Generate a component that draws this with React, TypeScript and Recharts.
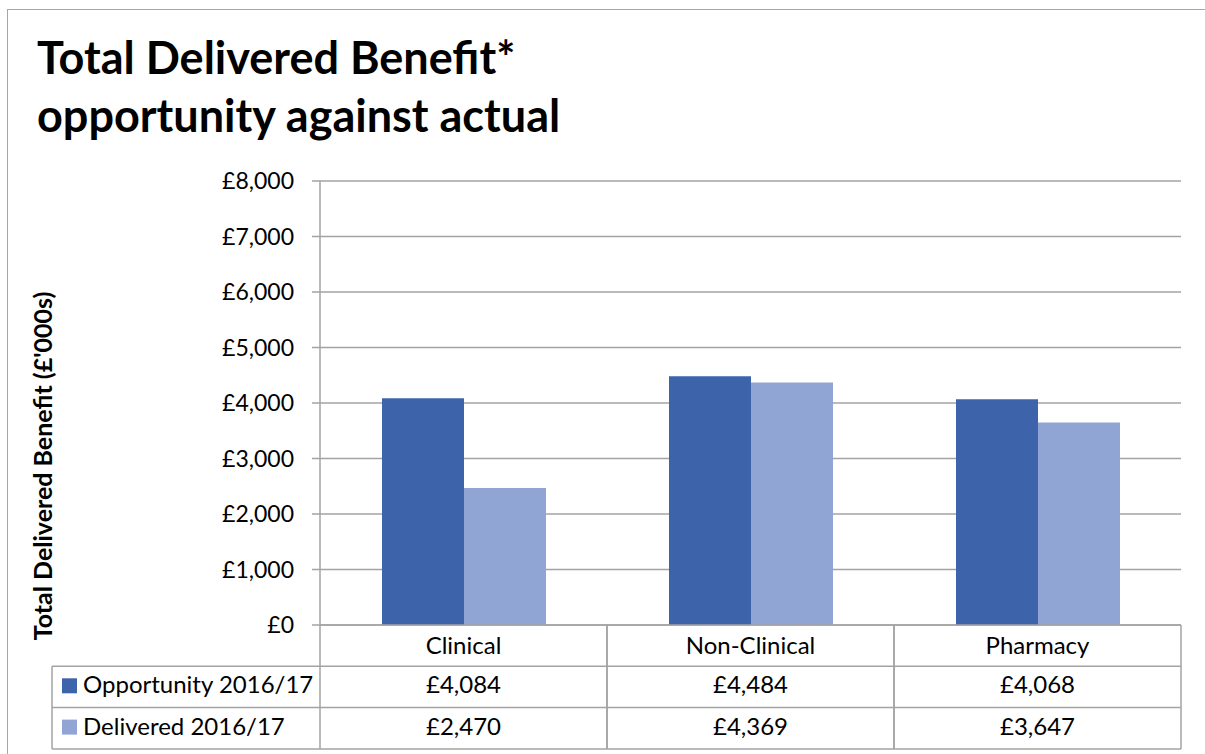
import { BarChart, Bar, XAxis, YAxis, CartesianGrid } from 'recharts';

const categories = ['Clinical', 'Non-Clinical', 'Pharmacy'];
const opportunity = [4084, 4484, 4068];
const delivered = [2470, 4369, 3647];
const yTicks = [0, 1000, 2000, 3000, 4000, 5000, 6000, 7000, 8000];
const seriesNames = ['Opportunity 2016/17', 'Delivered 2016/17'];

const DARK = '#3d64ab';
const LIGHT = '#91a5d4';
const GRID = '#a3a3a3';
const FONT = 'Lato, "Open Sans", sans-serif';

const W = 1205;
const H = 754;
const PLOT_LEFT = 320;
const PLOT_RIGHT = 1181;
const PLOT_TOP = 181;
const PLOT_BOTTOM = 625;
const ROW_H = 41.3;
const COL_W = (PLOT_RIGHT - PLOT_LEFT) / categories.length;
const LEGEND_LEFT = 52;
const TABLE_FS = 24;

const data = categories.map((name, i) => ({
  name,
  opportunity: opportunity[i],
  delivered: delivered[i],
}));

const money = (v: number) => `£${v.toLocaleString('en-GB')}`;

// each category tick draws its own column of the data table
function TableTick(props: any) {
  const { x, y, index } = props;
  const left = x - COL_W / 2;
  const right = x + COL_W / 2;
  const rows = [y, y + ROW_H, y + ROW_H * 2, y + ROW_H * 3];
  return (
    <g>
      <line x1={left} x2={left} y1={rows[0]} y2={rows[3]} stroke={GRID} strokeWidth={1.5} />
      <line x1={right} x2={right} y1={rows[0]} y2={rows[3]} stroke={GRID} strokeWidth={1.5} />
      {rows.slice(1).map((ry, i) => (
        <line key={i} x1={left} x2={right} y1={ry} y2={ry} stroke={GRID} strokeWidth={1.5} />
      ))}
      <text x={x} y={rows[0] + 29} textAnchor="middle" fontSize={TABLE_FS} fontFamily={FONT} fill="#000">
        {categories[index]}
      </text>
      <text x={x} y={rows[1] + 27} textAnchor="middle" fontSize={TABLE_FS} fontFamily={FONT} fill="#000">
        {money(opportunity[index])}
      </text>
      <text x={x} y={rows[2] + 27} textAnchor="middle" fontSize={TABLE_FS} fontFamily={FONT} fill="#000">
        {money(delivered[index])}
      </text>
    </g>
  );
}

export default function App() {
  const r1 = PLOT_BOTTOM + ROW_H;
  const r2 = PLOT_BOTTOM + ROW_H * 2;
  const r3 = PLOT_BOTTOM + ROW_H * 3;
  return (
    <div style={{ position: 'absolute', left: 0, top: 0, width: W, height: H, overflow: 'hidden', background: '#fff' }}>
      <div
        style={{
          position: 'absolute',
          left: 7,
          top: 9,
          width: 1400,
          height: 900,
          borderLeft: '1.5px solid #a6a6a6',
          borderTop: '1.5px solid #a6a6a6',
        }}
      />
      <BarChart
        width={W}
        height={H}
        data={data}
        margin={{ top: PLOT_TOP, right: W - PLOT_RIGHT, bottom: 5, left: PLOT_LEFT - 100 }}
        barGap={0}
        style={{ position: 'absolute', left: 0, top: 0 }}
      >
        <CartesianGrid vertical={false} stroke={GRID} strokeWidth={1.5} />
        <XAxis
          dataKey="name"
          height={H - PLOT_BOTTOM - 5}
          axisLine={{ stroke: GRID, strokeWidth: 1.5 }}
          tickLine={false}
          tickSize={0}
          tickMargin={0}
          tick={<TableTick />}
          interval={0}
        />
        <YAxis
          width={100}
          domain={[0, 8000]}
          ticks={yTicks}
          tickFormatter={money}
          tickSize={8}
          tickMargin={18}
          axisLine={{ stroke: GRID, strokeWidth: 1.5 }}
          tickLine={{ stroke: GRID, strokeWidth: 1.5 }}
          tick={{ fontSize: 23, fontFamily: FONT, fill: '#000' }}
        />
        <Bar dataKey="opportunity" name={seriesNames[0]} fill={DARK} barSize={82} isAnimationActive={false} />
        <Bar dataKey="delivered" name={seriesNames[1]} fill={LIGHT} barSize={82} isAnimationActive={false} />
      </BarChart>
      <svg width={W} height={H} style={{ position: 'absolute', left: 0, top: 0, pointerEvents: 'none' }}>
        <text x={37} y={74} fontSize={45} fontWeight={700} fontFamily={FONT} fill="#000">
          Total Delivered Benefit*
        </text>
        <text x={37} y={132} fontSize={45} fontWeight={700} fontFamily={FONT} fill="#000">
          opportunity against actual
        </text>
        <text
          transform="translate(52,466) rotate(-90)"
          textAnchor="middle"
          fontSize={25}
          fontWeight={700}
          fontFamily={FONT}
          fill="#000"
        >
          Total Delivered Benefit (£'000s)
        </text>
        <line x1={LEGEND_LEFT} x2={PLOT_LEFT} y1={r1} y2={r1} stroke={GRID} strokeWidth={1.5} />
        <line x1={LEGEND_LEFT} x2={PLOT_LEFT} y1={r2} y2={r2} stroke={GRID} strokeWidth={1.5} />
        <line x1={LEGEND_LEFT} x2={PLOT_LEFT} y1={r3} y2={r3} stroke={GRID} strokeWidth={1.5} />
        <line x1={LEGEND_LEFT} x2={LEGEND_LEFT} y1={r1} y2={r3} stroke={GRID} strokeWidth={1.5} />
        <rect x={62} y={r1 + 12} width={15} height={15} fill={DARK} />
        <rect x={62} y={r2 + 12} width={15} height={15} fill={LIGHT} />
        <text x={83} y={r1 + 27} fontSize={TABLE_FS} fontFamily={FONT} fill="#000">
          {seriesNames[0]}
        </text>
        <text x={83} y={r2 + 27} fontSize={TABLE_FS} fontFamily={FONT} fill="#000">
          {seriesNames[1]}
        </text>
      </svg>
    </div>
  );
}
